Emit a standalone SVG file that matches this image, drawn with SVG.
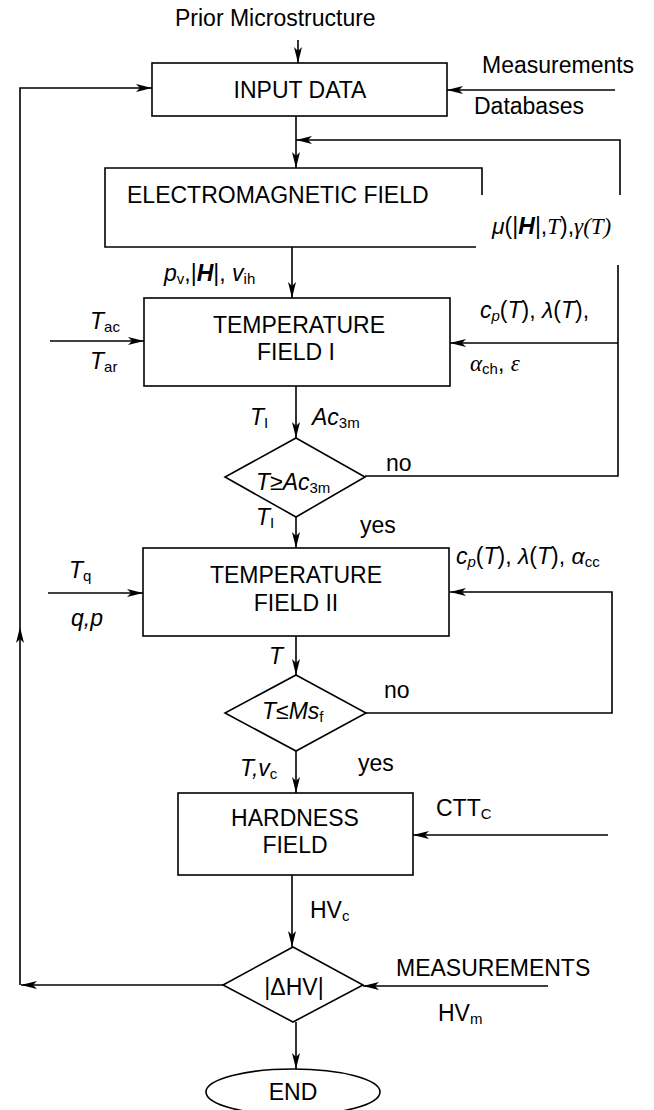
<svg xmlns="http://www.w3.org/2000/svg" width="654" height="1110" viewBox="0 0 654 1110">
<style>
text{font-family:"Liberation Sans",Arial,sans-serif;font-size:23px;fill:#000}
.m{text-anchor:middle}
.i{font-style:italic}
.b{font-weight:bold;font-style:italic}
.s{font-size:15px;font-style:normal}
.si{font-size:15px;font-style:italic}
.g{font-family:"Liberation Serif","Times New Roman",serif;font-style:italic}
.box{fill:#fff;stroke:#000;stroke-width:1.6}
.ln{fill:none;stroke:#000;stroke-width:1.6}
.ar{fill:none;stroke:#000;stroke-width:1.6;marker-end:url(#ah)}
</style>
<defs>
<marker id="ah" viewBox="0 0 16 8" refX="16" refY="4" markerWidth="16" markerHeight="8" markerUnits="userSpaceOnUse" orient="auto">
<path d="M0,0 L16,4 L0,8 L4,4 Z" fill="#000"/>
</marker>
</defs>
<g id="connectors">
<path class="ar" d="M298,40 V63"/>
<path class="ar" d="M615,90 H447"/>
<path class="ar" d="M223,985 H21"/>
<path class="ar" d="M20,985 V627"/>
<path class="ar" d="M20,627 V88 H152"/>
<path class="ar" d="M296,116 V168"/>
<path class="ar" d="M620,195 V140 H296"/>
<path class="ar" d="M292,247 V298"/>
<path class="ln" d="M618,265 V476 H365"/>
<path class="ar" d="M618,343 H450"/>
<path class="ar" d="M50,341 H144"/>
<path class="ar" d="M296,386 V438"/>
<path class="ar" d="M296,517 V548"/>
<path class="ar" d="M48,593 H143"/>
<path class="ar" d="M366,713 H612 V592 H450"/>
<path class="ar" d="M296,636 V675"/>
<path class="ar" d="M296,751 V793"/>
<path class="ar" d="M608,835 H413"/>
<path class="ar" d="M292,875 V947"/>
<path class="ar" d="M548,986 H363"/>
<path class="ar" d="M296,1022 V1069"/>
</g>
<g id="input-data">
<rect class="box" x="152" y="63" width="295" height="53"/>
<text class="m" x="300" y="98">INPUT DATA</text>
</g>
<g id="em-field">
<path class="ln" d="M482,195 V168 H105 V247 H476"/>
<text x="127" y="203">ELECTROMAGNETIC FIELD</text>
</g>
<g id="temp-field-1">
<rect class="box" x="144" y="298" width="306" height="88"/>
<text class="m" x="299" y="333">TEMPERATURE</text>
<text class="m" x="296" y="360">FIELD I</text>
</g>
<g id="decision-ac3m">
<polygon class="box" points="296,438 365,477 296,517 225,477"/>
<text x="256" y="490"><tspan class="i">T</tspan>≥<tspan class="i">Ac</tspan><tspan class="s" dy="3">3m</tspan></text>
</g>
<g id="temp-field-2">
<rect class="box" x="143" y="548" width="306" height="88"/>
<text class="m" x="296" y="583">TEMPERATURE</text>
<text class="m" x="296" y="611">FIELD II</text>
</g>
<g id="decision-ms">
<polygon class="box" points="296,675 366,713 296,751 225,713"/>
<text x="262" y="719"><tspan class="i">T</tspan>≤<tspan class="i">Ms</tspan><tspan class="s" dy="3">f</tspan></text>
</g>
<g id="hardness-field">
<rect class="box" x="178" y="793" width="235" height="82"/>
<text class="m" x="295" y="826">HARDNESS</text>
<text class="m" x="295" y="853">FIELD</text>
</g>
<g id="decision-hv">
<polygon class="box" points="293,947 363,985 293,1022 223,985"/>
<text class="m" x="294" y="995">|ΔHV|</text>
</g>
<g id="end">
<ellipse class="box" cx="293" cy="1092" rx="87" ry="23"/>
<text class="m" x="293" y="1100">END</text>
</g>
<g id="labels">
<text x="175" y="26">Prior Microstructure</text>
<text x="482" y="73">Measurements</text>
<text x="474" y="114">Databases</text>
<text x="492" y="234"><tspan class="i">μ</tspan>(|<tspan class="b">H</tspan>|,<tspan class="g">T</tspan>),<tspan class="g">γ(T)</tspan></text>
<text x="164" y="281"><tspan class="i">p</tspan><tspan class="s" dy="3">v</tspan><tspan dy="-3">,|</tspan><tspan class="b">H</tspan>|, <tspan class="i">v</tspan><tspan class="s" dy="3">ih</tspan></text>
<text x="90" y="329"><tspan class="i">T</tspan><tspan class="s" dy="3">ac</tspan></text>
<text x="90" y="369"><tspan class="i">T</tspan><tspan class="s" dy="3">ar</tspan></text>
<text x="480" y="318"><tspan class="i">c</tspan><tspan class="si" dy="3">p</tspan><tspan dy="-3">(</tspan><tspan class="i">T</tspan>), <tspan class="i">λ</tspan>(<tspan class="i">T</tspan>),</text>
<text x="470" y="371"><tspan class="g">α</tspan><tspan class="s" dy="3">ch</tspan><tspan dy="-3">, </tspan><tspan class="g">ε</tspan></text>
<text x="250" y="425"><tspan class="i">T</tspan><tspan class="s" dy="3">I</tspan></text>
<text x="312" y="425"><tspan class="i">Ac</tspan><tspan class="s" dy="3">3m</tspan></text>
<text x="386" y="471">no</text>
<text x="256" y="525"><tspan class="i">T</tspan><tspan class="s" dy="3">I</tspan></text>
<text x="360" y="533">yes</text>
<text x="456" y="564"><tspan class="i">c</tspan><tspan class="si" dy="3">p</tspan><tspan dy="-3">(</tspan><tspan class="i">T</tspan>), <tspan class="i">λ</tspan>(<tspan class="i">T</tspan>), <tspan class="i">α</tspan><tspan class="s" dy="3">cc</tspan></text>
<text x="69" y="578"><tspan class="i">T</tspan><tspan class="s" dy="3">q</tspan></text>
<text x="71" y="626" class="i">q,p</text>
<text x="269" y="664" class="i">T</text>
<text x="384" y="698">no</text>
<text x="240" y="776"><tspan class="i">T,v</tspan><tspan class="s" dy="3">c</tspan></text>
<text x="358" y="771">yes</text>
<text x="436" y="816">CTT<tspan class="s" dy="3">C</tspan></text>
<text x="310" y="918">HV<tspan class="s" dy="3">c</tspan></text>
<text x="396" y="976">MEASUREMENTS</text>
<text x="438" y="1021">HV<tspan class="s" dy="3">m</tspan></text>
</g>
</svg>
